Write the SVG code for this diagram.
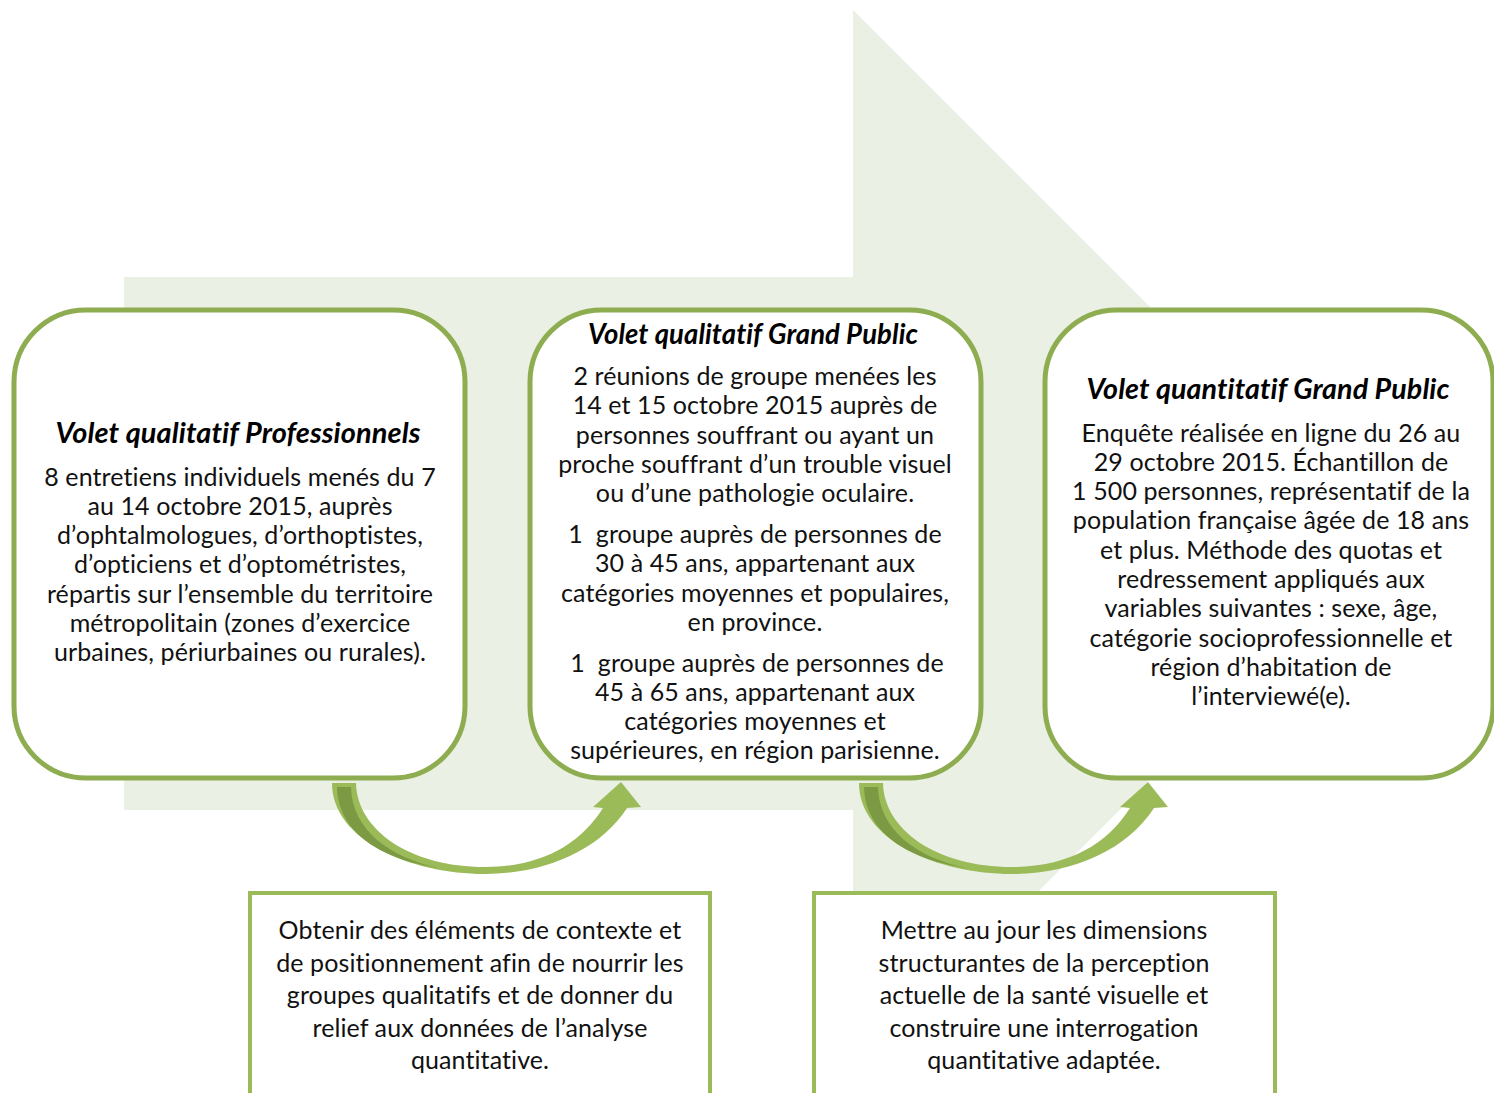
<svg xmlns="http://www.w3.org/2000/svg" width="1494" height="1093" viewBox="0 0 1494 1093">
<style>
.bg{fill:#EAF0E3}
.rbox{fill:#fff;stroke:#8EAC50;stroke-width:5}
.sbox{fill:#fff;stroke:#9BBB59;stroke-width:4}
.t{font-family:Lato,"Liberation Sans",sans-serif;font-size:25px;fill:#111;text-anchor:middle;letter-spacing:0.1px;font-feature-settings:"liga" 0,"clig" 0,"dlig" 0,"calt" 0}
.h{font-family:Lato,"Liberation Sans",sans-serif;font-size:28px;font-weight:bold;font-style:italic;fill:#000;text-anchor:middle;letter-spacing:0.1px;font-feature-settings:"liga" 0,"clig" 0,"dlig" 0,"calt" 0}
.arr{fill:#9BBB59}
.arrd{fill:#7C9A44}
</style>
<defs>
<g id="curved">
<path class="arr" d="M332 783 L356 783 C357 830 410 867 485 867 C540 867 580 845 603 808 L593 807 L621 782 L641 807 L627 808 C600 850 545 874 485 874 C410 874 332 840 332 783 Z"/>
<path class="arrd" d="M337 787 L351 787 C352 830 390 858 440 868 C385 860 338 835 337 787 Z"/>
</g>
</defs>
<polygon class="bg" points="124,277 853,277 853,10 1386,543 853,1077 853,810 124,810"/>
<g id="node1">
<rect class="rbox" x="14" y="310" width="451" height="468" rx="72" ry="72"/>
<text class="h" x="238" y="443" textLength="365" lengthAdjust="spacingAndGlyphs">Volet qualitatif Professionnels</text>
<text class="t" x="240" y="486">8 entretiens individuels menés du 7</text>
<text class="t" x="240" y="515">au 14 octobre 2015, auprès</text>
<text class="t" x="240" y="544">d’ophtalmologues, d’orthoptistes,</text>
<text class="t" x="240" y="573">d’opticiens et d’optométristes,</text>
<text class="t" x="240" y="603">répartis sur l’ensemble du territoire</text>
<text class="t" x="240" y="632">métropolitain (zones d’exercice</text>
<text class="t" x="240" y="661">urbaines, périurbaines ou rurales).</text>
</g>
<g id="node2">
<rect class="rbox" x="530" y="310" width="451" height="468" rx="72" ry="72"/>
<text class="h" x="753" y="344" textLength="330" lengthAdjust="spacingAndGlyphs">Volet qualitatif Grand Public</text>
<text class="t" x="755" y="385">2 réunions de groupe menées les</text>
<text class="t" x="755" y="414">14 et 15 octobre 2015 auprès de</text>
<text class="t" x="755" y="444">personnes souffrant ou ayant un</text>
<text class="t" x="755" y="473">proche souffrant d’un trouble visuel</text>
<text class="t" x="755" y="502">ou d’une pathologie oculaire.</text>
<text class="t" x="755" y="543">1&#160; groupe auprès de personnes de</text>
<text class="t" x="755" y="572">30 à 45 ans, appartenant aux</text>
<text class="t" x="755" y="602">catégories moyennes et populaires,</text>
<text class="t" x="755" y="631">en province.</text>
<text class="t" x="757" y="672">1&#160; groupe auprès de personnes de</text>
<text class="t" x="755" y="701">45 à 65 ans, appartenant aux</text>
<text class="t" x="755" y="730">catégories moyennes et</text>
<text class="t" x="755" y="759">supérieures, en région parisienne.</text>
</g>
<g id="node3">
<rect class="rbox" x="1045" y="310" width="448" height="468" rx="72" ry="72"/>
<text class="h" x="1268" y="399" textLength="363" lengthAdjust="spacingAndGlyphs">Volet quantitatif Grand Public</text>
<text class="t" x="1271" y="442">Enquête réalisée en ligne du 26 au</text>
<text class="t" x="1271" y="471">29 octobre 2015. Échantillon de</text>
<text class="t" x="1271" y="500">1 500 personnes, représentatif de la</text>
<text class="t" x="1271" y="529">population française âgée de 18 ans</text>
<text class="t" x="1271" y="559">et plus. Méthode des quotas et</text>
<text class="t" x="1271" y="588">redressement appliqués aux</text>
<text class="t" x="1271" y="617">variables suivantes : sexe, âge,</text>
<text class="t" x="1271" y="647">catégorie socioprofessionnelle et</text>
<text class="t" x="1271" y="676">région d’habitation de</text>
<text class="t" x="1271" y="705">l’interviewé(e).</text>
</g>
<g id="connectors">
<use href="#curved"/>
<use href="#curved" transform="translate(527,0)"/>
</g>
<g id="node4">
<rect class="sbox" x="250" y="893" width="460" height="220"/>
<text class="t" x="480" y="939">Obtenir des éléments de contexte et</text>
<text class="t" x="480" y="972">de positionnement afin de nourrir les</text>
<text class="t" x="480" y="1004">groupes qualitatifs et de donner du</text>
<text class="t" x="480" y="1037">relief aux données de l’analyse</text>
<text class="t" x="480" y="1069">quantitative.</text>
</g>
<g id="node5">
<rect class="sbox" x="814" y="893" width="461" height="220"/>
<text class="t" x="1044" y="939">Mettre au jour les dimensions</text>
<text class="t" x="1044" y="972">structurantes de la perception</text>
<text class="t" x="1044" y="1004">actuelle de la santé visuelle et</text>
<text class="t" x="1044" y="1037">construire une interrogation</text>
<text class="t" x="1044" y="1069">quantitative adaptée.</text>
</g>
</svg>
